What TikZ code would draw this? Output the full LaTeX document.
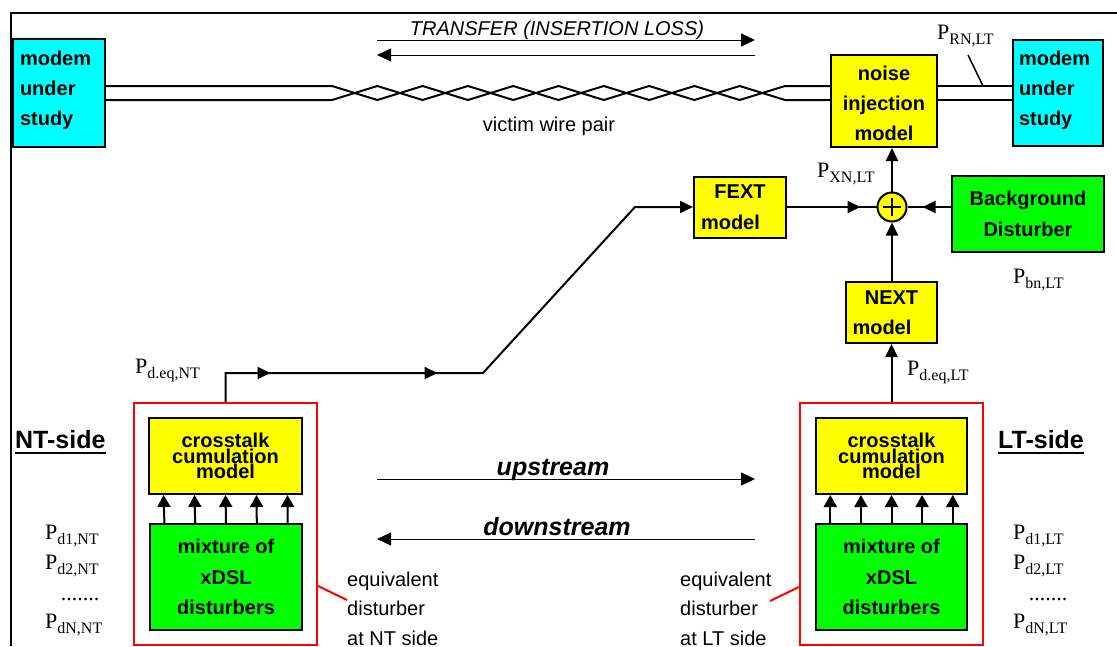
\documentclass[tikz,border=0pt]{standalone}
\usepackage{fontspec}
\setmainfont{Liberation Serif}
\setsansfont{Liberation Sans}
\usetikzlibrary{arrows.meta,decorations.markings,calc}
\definecolor{cyanbox}{RGB}{0,255,255}
\definecolor{yelbox}{RGB}{255,255,0}
\definecolor{grnbox}{RGB}{0,255,0}
\definecolor{redbox}{RGB}{255,0,0}
\newcommand{\Pw}[1]{P\raisebox{-5pt}{\fontsize{16}{16}\selectfont #1}}
\begin{document}
\begin{tikzpicture}[x=1pt,y=-1pt,
  box/.style={draw=black, line width=2pt, inner sep=0pt, font=\sffamily\bfseries\fontsize{20}{30}\selectfont, align=center},
  plab/.style={inner sep=0pt, anchor=base west, font=\fontsize{22}{24}\selectfont},
  stxt/.style={inner sep=0pt, font=\sffamily\fontsize{20}{29.5}\selectfont},
  conn/.style={line width=2pt},
  tipA/.style={-{Triangle[length=13pt,width=12pt]}},
  smalltip/.style={-{Triangle[length=12pt,width=13pt]}},
  thinarr/.style={line width=1pt, -{Triangle[length=14pt,width=13pt]}},
  midtip/.style={postaction={decorate, decoration={markings, mark=at position #1 with {\arrow{Triangle[length=13pt,width=12pt]}}}}},
  redline/.style={draw=redbox, line width=2pt}
]
\useasboundingbox (0,0) rectangle (1117,646);
% frame
\draw[line width=2pt] (11,646) -- (11,13) -- (1117,13);

% modems and noise injection
\node[box, fill=cyanbox, minimum width=92pt, minimum height=108pt, align=left, text width=78pt] (modemL) at (59,93) {modem\\under\\study\rule[-10pt]{0pt}{1pt}};
\node[box, fill=cyanbox, minimum width=90pt, minimum height=106pt, align=left, text width=78pt] (modemR) at (1058,93) {modem\\under\\study\rule[-9pt]{0pt}{1pt}};
\node[box, fill=yelbox, minimum width=106pt, minimum height=92pt] (noise) at (884,101) {\rule{0pt}{19pt}noise\\injection\\model};

% wire pair
\coordinate (wt) at (0,86);
\coordinate (wb) at (0,100);
\draw[conn] (modemL.east |- wt) -- (332,86) \foreach \i in {1,...,10}{ -- ({332+45.3*\i},{86+14*mod(\i,2)}) } -- (noise.west |- wt);
\draw[conn] (modemL.east |- wb) -- (332,100) \foreach \i in {1,...,10}{ -- ({332+45.3*\i},{100-14*mod(\i,2)}) } -- (noise.west |- wb);
\draw[conn] (noise.east |- wt) -- (modemR.west |- wt);
\draw[conn] (noise.east |- wb) -- (modemR.west |- wb);

% transfer arrows
\coordinate (ta) at (377,40);
\coordinate (tb) at (755,40);
\coordinate (tc) at (377,55);
\coordinate (td) at (755,55);
\draw[thinarr] (ta) -- (tb);
\draw[thinarr] (td) -- (tc);
\node[stxt, font=\sffamily\itshape\fontsize{20}{24}\selectfont, anchor=base] (transfer) at (557,35) {TRANSFER (INSERTION LOSS)};
\node[stxt, anchor=base] (victim) at (549,131) {victim wire pair};

% P_RN
\node[plab] (prn) at (937,39) {\Pw{RN,LT}};
\coordinate (prnp) at (983,86);
\draw[line width=1.5pt] (968,55) -- (prnp);

% FEXT, sum, background, NEXT
\node[box, fill=yelbox, minimum width=92pt, minimum height=61pt, align=left, text width=78pt, font=\sffamily\bfseries\fontsize{20}{31}\selectfont] (fext) at (740,207) {\makebox[78pt]{FEXT}\\model};
\node[circle, draw=black, line width=2pt, fill=yelbox, minimum size=29pt, inner sep=0pt] (sum) at (892,207) {};
\draw[line width=2pt] ([xshift=-9pt]sum.center) -- ([xshift=9pt]sum.center);
\draw[line width=2pt] ([yshift=-9pt]sum.center) -- ([yshift=9pt]sum.center);
\node[box, fill=grnbox, minimum width=152pt, minimum height=76pt, font=\sffamily\bfseries\fontsize{20}{31}\selectfont] (bg) at (1028,214) {Background\\Disturber};
\node[box, fill=yelbox, minimum width=91pt, minimum height=61pt, align=left, text width=78pt, font=\sffamily\bfseries\fontsize{20}{30}\selectfont] (next) at (891.5,312.5) {\makebox[78pt]{NEXT}\\model};

\draw[conn, tipA] (sum.north) -- (sum.north |- noise.south);
\draw[conn, midtip=-16pt] (fext.east) -- (sum.west);
\draw[conn, midtip=-15pt] (bg.west |- sum.east) -- (sum.east);
\draw[conn, tipA] (sum.south |- next.north) -- (sum.south);

\node[plab] (pxn) at (817,177) {\Pw{XN,LT}};
\node[plab] (pbn) at (1013,283) {\Pw{bn,LT}};

% NT side
\node[draw=redbox, line width=2pt, minimum width=183pt, minimum height=242pt, inner sep=0pt] (ntred) at (225.5,524) {};
\node[box, fill=yelbox, minimum width=153pt, minimum height=76pt, font=\sffamily\bfseries\fontsize{20}{15.5}\selectfont] (ntcross) at (225.5,456) {crosstalk\\cumulation\\model};
\node[box, fill=grnbox, minimum width=152pt, minimum height=106pt, font=\sffamily\bfseries\fontsize{20}{30.5}\selectfont] (ntmix) at (226,577) {mixture of\\xDSL\\disturbers};
\foreach \f in {0.1,0.3,0.5,0.7,0.9} {
  \draw[conn, smalltip] ($(ntmix.north west)!\f!(ntmix.north east)$) -- ($(ntcross.south west)!\f!(ntcross.south east)$);
}

% LT side
\node[draw=redbox, line width=2pt, minimum width=183pt, minimum height=242pt, inner sep=0pt] (ltred) at (891.5,524) {};
\node[box, fill=yelbox, minimum width=151pt, minimum height=76pt, font=\sffamily\bfseries\fontsize{20}{15.5}\selectfont] (ltcross) at (891.5,456) {crosstalk\\cumulation\\model};
\node[box, fill=grnbox, minimum width=151pt, minimum height=106pt, font=\sffamily\bfseries\fontsize{20}{30.5}\selectfont] (ltmix) at (891.5,577) {mixture of\\xDSL\\disturbers};
\foreach \f in {0.1,0.3,0.5,0.7,0.9} {
  \draw[conn, smalltip] ($(ltmix.north west)!\f!(ltmix.north east)$) -- ($(ltcross.south west)!\f!(ltcross.south east)$);
}
\draw[conn, tipA] (ltred.north) -- (next.south);

% NT equivalent path to FEXT
\coordinate (k2) at (483,373);
\coordinate (k3) at (635,207);
\draw[conn, tipA, midtip=74pt, midtip=241pt] (ntred.north) -- (ntred.north |- k2) -- (k2) -- (k3) -- (fext.west);

\node[plab] (pdeqnt) at (135,373) {\Pw{d.eq,NT}};
\node[plab] (pdeqlt) at (907,375) {\Pw{d.eq,LT}};

% side labels
\node[inner sep=0pt, font=\sffamily\bfseries\fontsize{25}{28}\selectfont, anchor=base west] (ntside) at (15,448) {NT-side};
\draw[line width=2pt] ([yshift=-5pt]ntside.base west) -- ([yshift=-5pt]ntside.base east);
\node[inner sep=0pt, font=\sffamily\bfseries\fontsize{25}{28}\selectfont, anchor=base west] (ltside) at (998,448) {LT-side};
\draw[line width=2pt] ([yshift=-5pt]ltside.base west) -- ([yshift=-5pt]ltside.base east);

% disturber power labels
\node[plab] (pd1nt) at (45,539) {\Pw{d1,NT}};
\node[plab] (pd2nt) at (45,569) {\Pw{d2,NT}};
\node[plab, anchor=base] (dotsnt) at (80,600) {.......};
\node[plab] (pdnnt) at (45,628) {\Pw{dN,NT}};
\node[plab] (pd1lt) at (1013,539) {\Pw{d1,LT}};
\node[plab] (pd2lt) at (1013,569) {\Pw{d2,LT}};
\node[plab, anchor=base] (dotslt) at (1048,600) {.......};
\node[plab] (pdnlt) at (1013,628) {\Pw{dN,LT}};

% upstream / downstream
\coordinate (ua) at (377,479);
\coordinate (ub) at (755,479);
\coordinate (da) at (755,539);
\coordinate (db) at (377,539);
\draw[thinarr] (ua) -- (ub);
\draw[thinarr] (da) -- (db);
\node[inner sep=0pt, font=\sffamily\bfseries\itshape\fontsize{25}{28}\selectfont, anchor=base] (up) at (553,475) {upstream};
\node[inner sep=0pt, font=\sffamily\bfseries\itshape\fontsize{25}{28}\selectfont, anchor=base] (down) at (557,535) {downstream};

% equivalent disturber notes
\coordinate (ntp) at (347,600);
\draw[redline] ([yshift=-62pt]ntred.east) -- (ntp);
\coordinate (ltp) at (770,601);
\draw[redline] ([yshift=-63pt]ltred.west) -- (ltp);
\node[stxt, anchor=north west, align=left] (eqnt) at (347,571.5) {equivalent\\disturber\\at NT side};
\node[stxt, anchor=north west, align=left] (eqlt) at (680,571.5) {equivalent\\disturber\\at LT side};
\end{tikzpicture}
\end{document}
